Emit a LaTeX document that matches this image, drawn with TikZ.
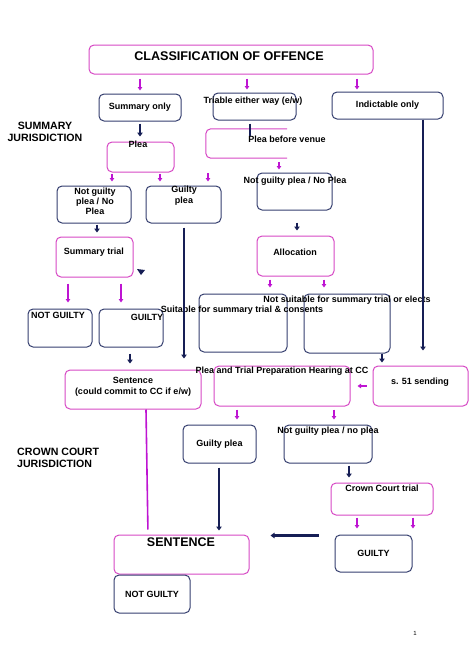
\documentclass[tikz,border=0pt]{standalone}
\usepackage{fontspec}
\setmainfont{Liberation Sans}
\usetikzlibrary{arrows.meta,positioning,calc}
\definecolor{boxpink}{RGB}{214,72,196}
\definecolor{arrpink}{RGB}{190,20,210}
\definecolor{boxnavy}{RGB}{52,62,110}
\definecolor{arrnavy}{RGB}{22,30,85}

\begin{document}
\begin{tikzpicture}[
  x=1pt, y=-1pt,
  box/.style={draw, rounded corners=5pt, line width=1pt, inner sep=0pt},
  pbox/.style={box, draw=boxpink},
  nbox/.style={box, draw=boxnavy},
  txt/.style={font=\bfseries\fontsize{9}{11}\selectfont, align=center, inner sep=0pt},
  head/.style={font=\bfseries\fontsize{10.6}{12}\selectfont, align=center, inner sep=0pt},
  parr/.style={-{Triangle[length=3.5pt,width=4.5pt]}, arrpink, line width=1.8pt},
  narr/.style={-{Triangle[length=4pt,width=5.5pt]}, arrnavy, line width=2.2pt}
]
  \useasboundingbox (0,0) rectangle (474,670);

  % boxes and texts
  \node[pbox, minimum width=284pt, minimum height=29pt] (cls) at (231,59.5) {};
  \node[txt, font=\bfseries\fontsize{12.6}{14}\selectfont] (clsT) at (229,56) {CLASSIFICATION OF OFFENCE};
  \node[nbox, txt, minimum width=82pt, minimum height=27pt] (sumonly) at (140,107.5) {Summary only};
  \node[nbox, minimum width=83pt, minimum height=27pt] (tri) at (254.5,106.5) {};
  \node[txt] (triT) at (253,101) {Triable either way (e/w)};
  \node[nbox, txt, minimum width=111pt, minimum height=27pt] (ind) at (387.5,105.5) {Indictable only};
  \node[head] (sumJ) at (45,132) {SUMMARY\\JURISDICTION};

  \node[pbox, minimum width=67pt, minimum height=30pt] (plea) at (140.5,157) {};
  \node[txt] (pleaT) at (138,144.5) {Plea};
  \node[minimum width=81pt, minimum height=29pt, inner sep=0pt] (pbv) at (246.5,143.5) {};
  \draw[boxpink, line width=1pt, rounded corners=5pt] (pbv.north east) -| (pbv.south west) -- (pbv.south east);
  \node[txt] (pbvT) at (287,139) {Plea before venue};

  \node[nbox, minimum width=74pt, minimum height=37pt] (ngL) at (94,204.5) {};
  \node[txt, font=\bfseries\fontsize{9}{10}\selectfont] (ngLT) at (95,201) {Not guilty\\plea / No\\Plea};
  \node[nbox, minimum width=75pt, minimum height=37pt] (gp) at (183.5,204.5) {};
  \node[txt] (gpT) at (184,195.5) {Guilty\\plea};
  \node[nbox, minimum width=75pt, minimum height=37pt] (ngM) at (294.5,191.5) {};
  \node[txt] (ngMT) at (295,181) {Not guilty plea / No Plea};

  \node[pbox, minimum width=77pt, minimum height=40pt] (strial) at (94.5,257) {};
  \node[txt] (strialT) at (94,252) {Summary trial};
  \node[pbox, minimum width=77pt, minimum height=40pt] (alloc) at (295.5,256) {};
  \node[txt] (allocT) at (295,252) {Allocation};
  \fill[arrnavy] (137,269) -- (145,270) -- (141,275) -- cycle;

  \node[nbox, minimum width=64pt, minimum height=38pt] (ngS) at (60,328) {};
  \node[txt] (ngST) at (58,315) {NOT GUILTY};
  \node[nbox, minimum width=64pt, minimum height=38pt] (gS) at (131,328) {};
  \node[txt] (gST) at (147,317) {GUILTY};
  \node[nbox, minimum width=88pt, minimum height=58pt] (suit) at (243,323) {};
  \node[txt] (suitT) at (242,310) {Suitable for summary trial \& consents};
  \node[nbox, minimum width=86pt, minimum height=59pt] (nsuit) at (347,323.5) {};
  \node[txt] (nsuitT) at (347,300) {Not suitable for summary trial or elects};

  \node[pbox, minimum width=136pt, minimum height=39pt] (sent) at (133,389.5) {};
  \node[txt] (sentT) at (133,386.5) {Sentence\\(could commit to CC if e/w)};
  \node[pbox, minimum width=136pt, minimum height=40pt] (ptph) at (282,386) {};
  \node[txt] (ptphT) at (282,371) {Plea and Trial Preparation Hearing at CC};
  \node[pbox, minimum width=95pt, minimum height=40pt] (s51) at (420.5,386) {};
  \node[txt] (s51T) at (420,382) {s. 51 sending};

  \node[head, anchor=west, align=left] (ccJ) at (17,458) {CROWN COURT\\JURISDICTION};
  \node[nbox, txt, minimum width=73pt, minimum height=38pt] (gpC) at (219.5,444) {Guilty plea};
  \node[nbox, minimum width=88pt, minimum height=38pt] (ngC) at (328,444) {};
  \node[txt] (ngCT) at (328,431) {Not guilty plea / no plea};
  \node[pbox, minimum width=102pt, minimum height=32pt] (cct) at (382,499) {};
  \node[txt] (cctT) at (382,488) {Crown Court trial};
  \node[pbox, minimum width=135pt, minimum height=39pt] (SENT) at (181.5,554.5) {};
  \node[txt, font=\bfseries\fontsize{12.5}{14}\selectfont] (SENTT) at (181,542) {SENTENCE};
  \node[nbox, txt, minimum width=76pt, minimum height=38pt] (ngB) at (152,594) {NOT GUILTY};
  \node[nbox, txt, minimum width=77pt, minimum height=37pt] (gB) at (373.5,553.5) {GUILTY};
  \node[font=\fontsize{6}{7}\selectfont, inner sep=0pt] (pg) at (415,633) {1};

  % connectors
  \draw[parr, shorten <=4pt, shorten >=3pt] (cls.south -| sumonly.north) -- (sumonly.north);
  \draw[parr, shorten <=4pt, shorten >=3pt] ([xshift=-7.5pt]tri.north |- cls.south) -- ([xshift=-7.5pt]tri.north);
  \draw[parr, shorten <=4pt, shorten >=2pt] ([xshift=-30.5pt]ind.north |- cls.south) -- ([xshift=-30.5pt]ind.north);
  \draw[narr, shorten <=2pt, shorten >=5pt] (sumonly.south) -- (sumonly.south |- plea.north);
  \draw[arrnavy, line width=2.2pt, shorten <=3pt, shorten >=-7pt] ([xshift=-4.5pt]tri.south) -- ([xshift=-4.5pt]tri.south |- pbv.north);
  \draw[parr, shorten <=1pt, shorten >=4pt] ([xshift=-28.5pt]plea.south) -- ([xshift=-28.5pt]plea.south |- ngL.north);
  \draw[parr, shorten <=1pt, shorten >=4pt] ([xshift=19.5pt]plea.south) -- ([xshift=19.5pt]plea.south |- gp.north);
  \draw[parr, shorten <=15pt, shorten >=4pt] ([xshift=-38.5pt]pbv.south) -- ([xshift=-38.5pt]pbv.south |- gp.north);
  \draw[parr, shorten <=4pt, shorten >=3pt] ([xshift=32.5pt]pbv.south) -- ([xshift=32.5pt]pbv.south |- ngM.north);
  \draw[narr, shorten <=1pt, shorten >=4pt] ([xshift=3pt]ngL.south) -- ([xshift=3pt]ngL.south |- strial.north);
  \draw[narr, shorten <=4pt, shorten >=11pt] ([xshift=0.5pt]gp.south) -- ([xshift=0.5pt]gp.south |- sent.north);
  \draw[narr, shorten <=12pt, shorten >=5pt] ([xshift=2.5pt]ngM.south) -- ([xshift=2.5pt]ngM.south |- alloc.north);
  \draw[parr, shorten <=6pt, shorten >=6pt] ([xshift=-26.5pt]strial.south) -- ([xshift=-26.5pt]strial.south |- ngS.north);
  \draw[parr, shorten <=6pt, shorten >=6pt] ([xshift=26.5pt]strial.south) -- ([xshift=26.5pt]strial.south |- gS.north);
  \draw[narr, shorten <=6pt, shorten >=6pt] ([xshift=-1pt]gS.south) -- ([xshift=-1pt]gS.south |- sent.north);
  \draw[parr, shorten <=3pt, shorten >=6pt] ([xshift=-25.5pt]alloc.south) -- ([xshift=-25.5pt]alloc.south |- suit.north);
  \draw[parr, shorten <=3pt, shorten >=6pt] ([xshift=28.5pt]alloc.south) -- ([xshift=28.5pt]alloc.south |- nsuit.north);
  \draw[narr, shorten >=3pt] ([xshift=35pt]nsuit.south) -- ([xshift=35pt]nsuit.south |- s51.north);
  \draw[narr, shorten >=15pt] ([xshift=35.5pt]ind.south) -- ([xshift=35.5pt]ind.south |- s51.north);
  \draw[parr, shorten <=6pt, shorten >=7pt] (s51.west) -- (ptph.east);
  \draw[parr, shorten <=3pt, shorten >=5pt] ([xshift=-45pt]ptph.south) -- ([xshift=-45pt]ptph.south |- gpC.north);
  \draw[parr, shorten <=3pt, shorten >=5pt] ([xshift=52pt]ptph.south) -- ([xshift=52pt]ptph.south |- ngC.north);
  \draw[arrpink, line width=1.6pt, shorten >=5pt] ([xshift=13pt]sent.south) -- ([xshift=-33.5pt]SENT.north);
  \draw[narr, shorten <=4pt, shorten >=4pt] ([xshift=-0.5pt]gpC.south) -- ([xshift=-0.5pt]gpC.south |- SENT.north);
  \draw[narr, shorten <=2pt, shorten >=5pt] ([xshift=21pt]ngC.south) -- ([xshift=21pt]ngC.south |- cct.north);
  \draw[parr, shorten <=2pt, shorten >=6pt] ([xshift=-25pt]cct.south) -- ([xshift=-25pt]cct.south |- gB.north);
  \draw[parr, shorten <=2pt, shorten >=6pt] ([xshift=31pt]cct.south) -- ([xshift=31pt]cct.south |- gB.north);
  \draw[narr, shorten <=16pt, shorten >=21pt] ([yshift=-1pt]gB.north west) -- ([yshift=-1pt]SENT.north east);
\end{tikzpicture}
\end{document}
